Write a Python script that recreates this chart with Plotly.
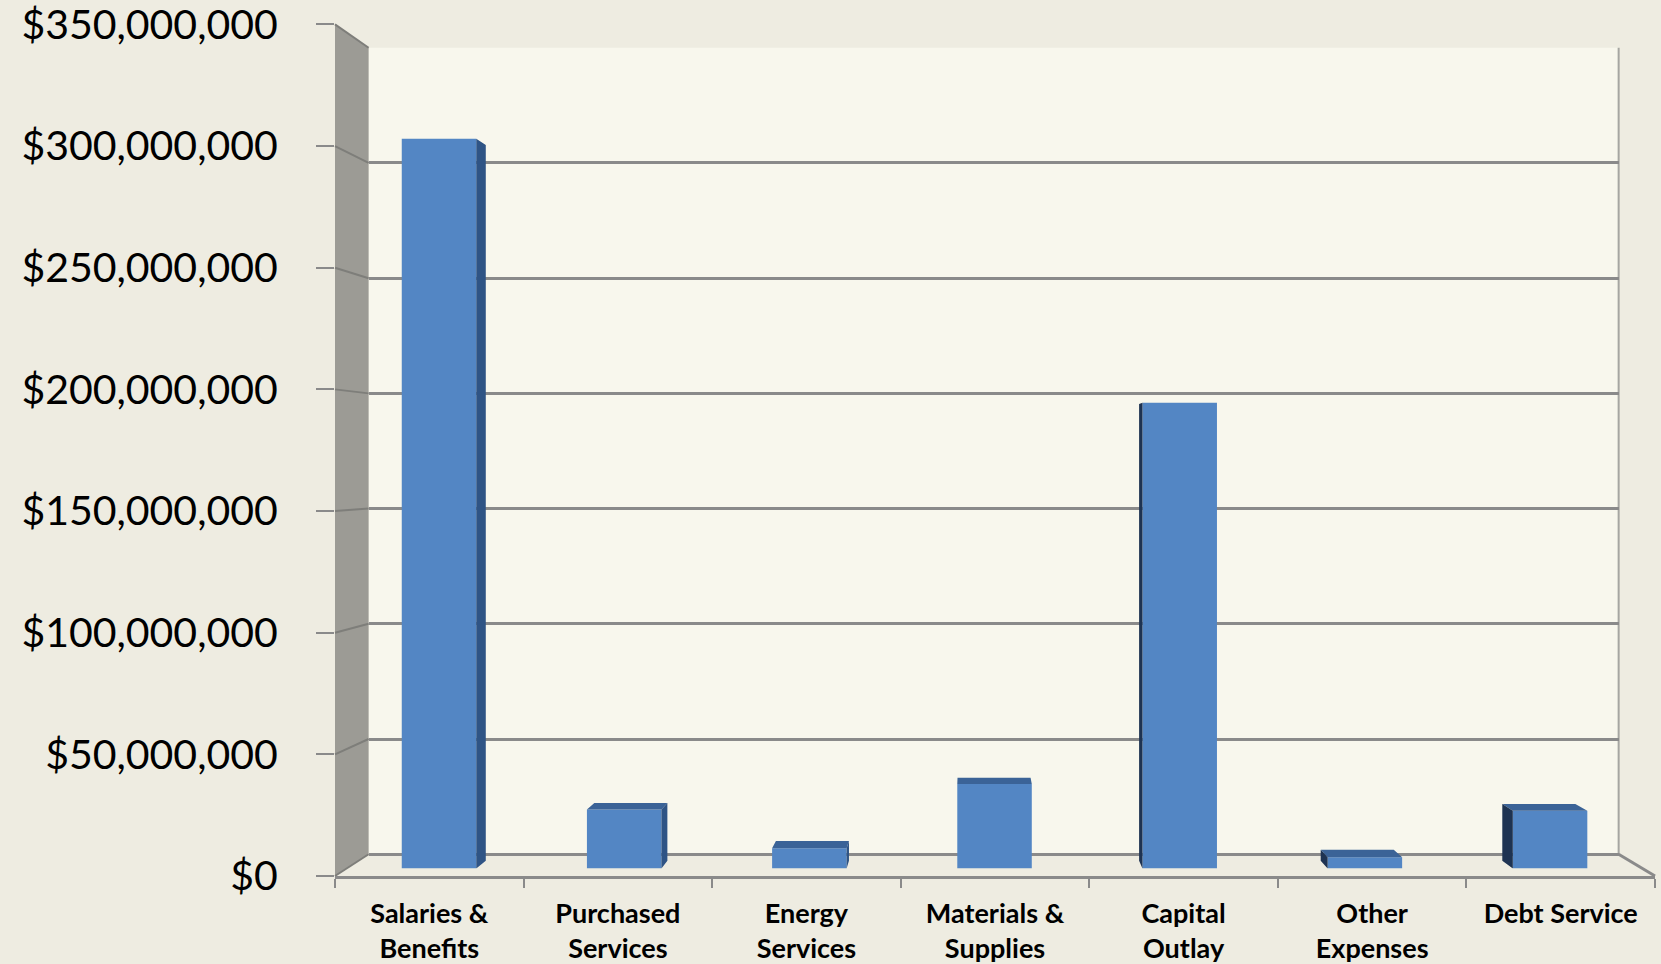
import plotly.graph_objects as go

# ---- data -------------------------------------------------------------
categories = [
    "Salaries &<br>Benefits",
    "Purchased<br>Services",
    "Energy<br>Services",
    "Materials &<br>Supplies",
    "Capital<br>Outlay",
    "Other<br>Expenses",
    "Debt Service",
]
amounts = [305.5e6, 24.7e6, 8.5e6, 35.4e6, 195.0e6, 4.7e6, 24.2e6]
tick_values = [0, 50e6, 100e6, 150e6, 200e6, 250e6, 300e6, 350e6]
tick_labels = ["$0", "$50,000,000", "$100,000,000", "$150,000,000",
               "$200,000,000", "$250,000,000", "$300,000,000", "$350,000,000"]
Y_MAX = 350e6

# ---- 3-D box geometry (page pixels) ----------------------------------
W, H = 1661, 964
FRONT_L, FRONT_R, FRONT_T, FRONT_B = 335.0, 1655.0, 24.4, 876.0
VPX, VPY = 969.0, 465.0          # point the depth planes shrink towards
WALL_F = 0.947                   # scale of the back wall plane
BAR_F = 0.982                    # scale of the bars' front faces
BAR_BACK_F = 0.963               # scale of the bars' back faces
BAR_W_PX = 74.5

GRID = "#8a8a8a"
PAPER = "#eeece1"
WALL = "#f8f7ed"
SIDE_WALL = "#9c9b95"
BLUE = "#5386c4"
BLUE_TOP = "#3b6397"
BLUE_RIGHT = "#2f5485"
BLUE_LEFT = "#1e3352"


def plane(f):
    return (VPX + (FRONT_L - VPX) * f, VPX + (FRONT_R - VPX) * f,
            VPY + (FRONT_T - VPY) * f, VPY + (FRONT_B - VPY) * f)


def dom(l, r, t, b):
    return [l / W, r / W], [1 - b / H, 1 - t / H]


def pp(x, y):
    return x / W, 1 - y / H


n = len(categories)
idx = list(range(n))

fl, fr, ft, fb = plane(1.0)
wl, wr, wt, wb = plane(WALL_F)
bl, br, bt, bb = plane(BAR_F)

fig = go.Figure()

# bars' receding faces, computed in the bar plane's data coordinates
step = (br - bl) / n
half = BAR_W_PX / step / 2
cx = -0.5 + (VPX - bl) / step
cy = (bb - VPY) / (bb - bt) * Y_MAX
k = BAR_BACK_F / BAR_F


def recede(x, y):
    return cx + (x - cx) * k, cy + (y - cy) * k


faces = {"top": ([], []), "right": ([], []), "left": ([], [])}


def add_poly(key, pts):
    xs, ys = faces[key]
    for x, y in pts + [pts[0]]:
        xs.append(x)
        ys.append(y)
    xs.append(None)
    ys.append(None)


for i, v in zip(idx, amounts):
    xl, xr = i - half, i + half
    if v < cy:
        add_poly("top", [(xl, v), (xr, v), recede(xr, v), recede(xl, v)])
    if xr < cx:
        add_poly("right", [(xr, 0), (xr, v), recede(xr, v), recede(xr, 0)])
    if xl > cx:
        add_poly("left", [(xl, 0), (xl, v), recede(xl, v), recede(xl, 0)])

for key, col in (("top", BLUE_TOP), ("right", BLUE_RIGHT), ("left", BLUE_LEFT)):
    xs, ys = faces[key]
    fig.add_trace(go.Scatter(x=xs, y=ys, xaxis="x3", yaxis="y3", mode="lines",
                             fill="toself", fillcolor=col, line=dict(width=0),
                             hoverinfo="skip", showlegend=False))

fig.add_trace(go.Bar(x=idx, y=amounts, width=2 * half, xaxis="x3", yaxis="y3",
                     marker=dict(color=BLUE, line=dict(width=0)),
                     showlegend=False, hovertext=[c.replace("<br>", " ") for c in categories],
                     hoverinfo="text+y"))

# invisible trace that carries the front category axis
fig.add_trace(go.Scatter(x=categories, y=[0] * n, xaxis="x2", yaxis="y2",
                         mode="markers", marker=dict(opacity=0), hoverinfo="skip",
                         showlegend=False))
# back wall axis
fig.add_trace(go.Scatter(x=idx, y=[0] * n, xaxis="x", yaxis="y", mode="markers",
                         marker=dict(opacity=0), hoverinfo="skip", showlegend=False))

xd1, yd1 = dom(wl, wr, wt, wb)
xd2, yd2 = dom(fl, fr, ft, fb)
xd3, yd3 = dom(bl, br, bt, bb)

shapes = []
# back wall
x0, y0 = pp(wl, wb)
x1, y1 = pp(wr, wt)
shapes.append(dict(type="rect", xref="paper", yref="paper", x0=x0, y0=y0, x1=x1, y1=y1,
                   fillcolor=WALL, line=dict(width=0), layer="below"))
# left side wall
pts = [pp(fl, ft), pp(wl, wt), pp(wl, wb), pp(fl, fb)]
path = "M " + " L ".join(f"{x},{y}" for x, y in pts) + " Z"
shapes.append(dict(type="path", xref="paper", yref="paper", path=path,
                   fillcolor=SIDE_WALL, line=dict(width=0), layer="below"))
# grid lines running across the side wall
for v in tick_values:
    yf = fb - (fb - ft) * v / Y_MAX
    yw = wb - (wb - wt) * v / Y_MAX
    ax0, ay0 = pp(fl, yf)
    ax1, ay1 = pp(wl, yw)
    shapes.append(dict(type="line", xref="paper", yref="paper", x0=ax0, y0=ay0,
                       x1=ax1, y1=ay1, line=dict(color="#7e7e7a", width=2), layer="below"))
# right edge of the back wall and the floor
ax0, ay0 = pp(wr, wt)
ax1, ay1 = pp(wr, wb)
shapes.append(dict(type="line", xref="paper", yref="paper", x0=ax0, y0=ay0, x1=ax1, y1=ay1,
                   line=dict(color="#a6a6a2", width=2), layer="below"))
ax0, ay0 = pp(wr, wb)
ax1, ay1 = pp(fr, fb)
shapes.append(dict(type="line", xref="paper", yref="paper", x0=ax0, y0=ay0, x1=ax1, y1=ay1,
                   line=dict(color=GRID, width=3), layer="below"))

fig.update_layout(
    width=W, height=H,
    margin=dict(l=0, r=0, t=0, b=0, autoexpand=False),
    paper_bgcolor=PAPER,
    plot_bgcolor="rgba(0,0,0,0)",
    showlegend=False,
    shapes=shapes,
    xaxis=dict(domain=xd1, range=[-0.5, n - 0.5], showgrid=False, zeroline=False,
               showticklabels=False, ticks="", anchor="y", fixedrange=True,
               automargin=False),
    yaxis=dict(domain=yd1, range=[0, Y_MAX], tickvals=tick_values, showgrid=True,
               gridcolor=GRID, gridwidth=2.5, zeroline=True, zerolinecolor=GRID,
               zerolinewidth=2.5, showticklabels=False, ticks="", anchor="x",
               fixedrange=True, automargin=False),
    xaxis2=dict(domain=xd2, type="category", categoryarray=categories,
                range=[-0.5, n - 0.5], showgrid=False, zeroline=False,
                showline=True, linecolor=GRID, linewidth=2.5,
                ticks="outside", tickson="boundaries", ticklen=9, tickwidth=2,
                tickcolor=GRID, ticklabelstandoff=12, ticklabeloverflow="allow",
                tickfont=dict(family="Lato", size=27, color="#000000", weight="bold"),
                anchor="y2", fixedrange=True, automargin=False),
    yaxis2=dict(domain=yd2, range=[0, Y_MAX], tickvals=tick_values, ticktext=tick_labels,
                showgrid=False, zeroline=False, showline=False,
                ticks="outside", ticklen=18, tickwidth=2, tickcolor=GRID,
                ticklabelstandoff=30, ticklabeloverflow="allow",
                tickfont=dict(family="Lato", size=41, color="#000000"),
                anchor="x2", fixedrange=True, automargin=False),
    xaxis3=dict(domain=xd3, range=[-0.5, n - 0.5], visible=False, anchor="y3",
                fixedrange=True),
    yaxis3=dict(domain=yd3, range=[0, Y_MAX], visible=False, anchor="x3",
                fixedrange=True),
)

fig.write_html("out.html")
